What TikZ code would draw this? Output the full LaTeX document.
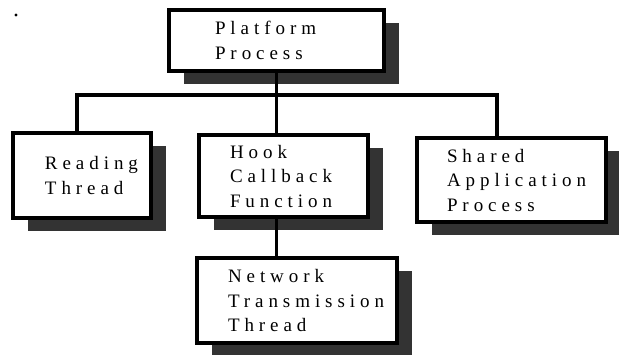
\documentclass[tikz,border=0pt]{standalone}
\usepackage{fontspec}
\setmainfont{Liberation Serif}[LetterSpace=26]
\usepackage{tikz}
\usetikzlibrary{shadows,positioning}
\hyphenpenalty=10000
\exhyphenpenalty=10000

\tikzset{
  blk/.style={draw, line width=3.2pt, fill=white, inner ysep=0pt,
    align=left, font=\fontsize{19}{24.5}\selectfont,
    drop shadow={shadow xshift=15pt, shadow yshift=-13pt, fill=black!80, opacity=1}},
  wire/.style={line width=3.2pt}
}

\begin{document}
\begin{tikzpicture}[x=1pt,y=-1pt]
\useasboundingbox (0,0) rectangle (619,354);

\node[blk, inner xsep=46pt, text width=123pt, minimum height=61pt] (Plat)   at (276.5,40.5) {Platform\\Process};
\node[blk, inner xsep=32pt, text width=74pt,  minimum height=85pt] (Read)   at (82,175.5)   {Reading\\Thread};
\node[blk, inner xsep=31pt, text width=107pt, minimum height=82pt] (Hook)   at (283.5,176)  {Hook\\Callback\\Function};
\node[blk, inner xsep=30pt, text width=129pt, minimum height=84pt] (Shared) at (511.5,180)  {Shared\\Application\\Process};
\node[blk, inner xsep=31pt, text width=138pt, minimum height=85pt] (Net)    at (297,300.5)  {Network\\Transmission\\Thread};

\coordinate (busL) at (77,95);
\coordinate (busR) at (497,95);

% tree lines
\draw[wire] (Read.north -| busL) -- (busL) -- (busR) -- (busR |- Shared.north);
\draw[wire] (Plat.south) -- (Plat.south |- Hook.north);
\draw[wire] (Plat.south |- Hook.south) -- (Plat.south |- Net.north);

\fill (16,15) circle (1.6pt);

\end{tikzpicture}
\end{document}
